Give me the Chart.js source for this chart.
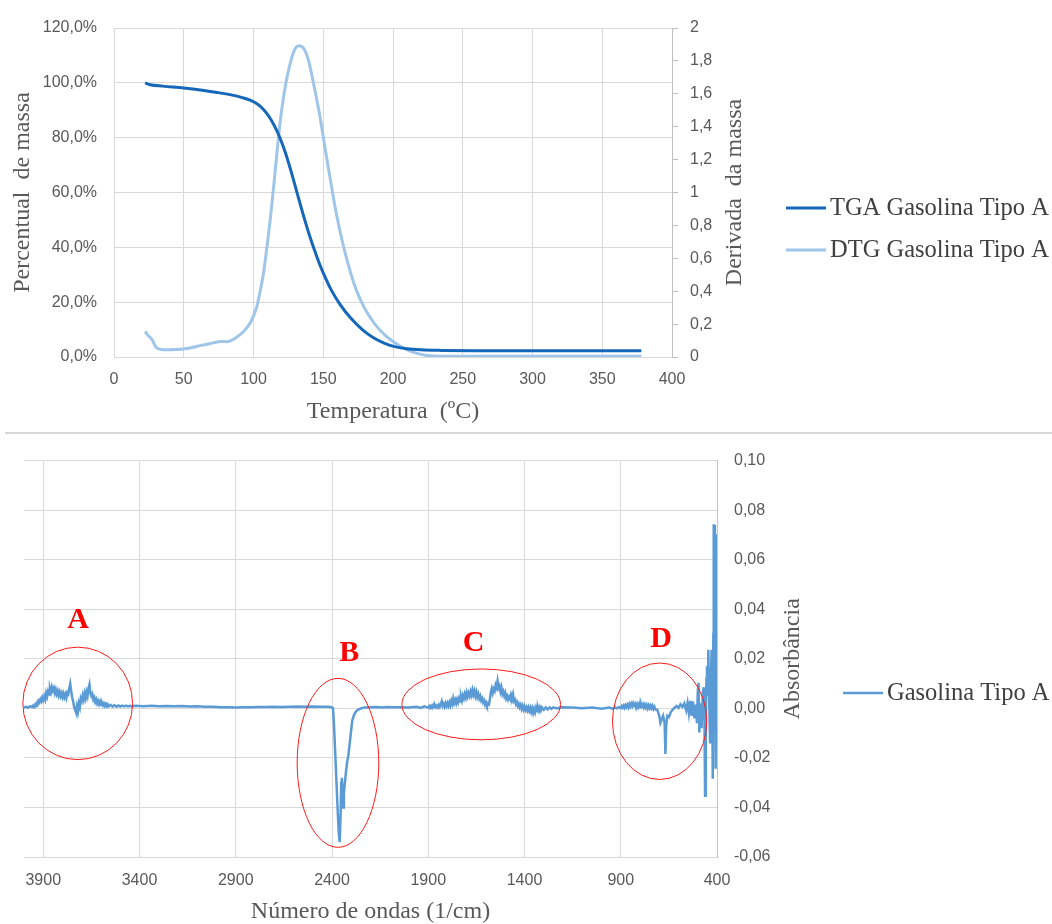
<!DOCTYPE html>
<html>
<head>
<meta charset="utf-8">
<script src="https://cdn.jsdelivr.net/npm/chart.js@4.4.1/dist/chart.umd.min.js"></script>
<style>
html,body{margin:0;padding:0;background:#fff;}
#wrap{position:relative;width:1052px;height:924px;overflow:hidden;background:#fff;}
#c1{position:absolute;left:0;top:0;}
#c2{position:absolute;left:0;top:434px;}
#sep{position:absolute;left:5px;top:432px;width:1047px;height:0;border-top:2px solid #d6d6d6;z-index:2;}
</style>
</head>
<body>
<div id="wrap">
<canvas id="c1" width="1052" height="434"></canvas>
<div id="sep"></div>
<canvas id="c2" width="1052" height="490"></canvas>
</div>
<script>
// ---------------- TOP CHART DATA (TGA / DTG) ----------------
const tgaLabel = 'TGA Gasolina Tipo A';
const dtgLabel = 'DTG Gasolina Tipo A';
const tgaTemp = [22.3, 26, 35, 50, 62, 74, 84, 92, 98, 103, 107, 111, 115, 119, 123, 127, 131, 135, 139, 143, 147, 151, 156, 162, 170, 178, 186, 194, 202, 210, 220, 235, 260, 378];
const tgaMass = [100, 99.3, 98.8, 98.1, 97.4, 96.5, 95.6, 94.6, 93.6, 92.2, 90.4, 87.8, 84.3, 79.9, 74.3, 67.6, 60.3, 53.0, 46.2, 40.0, 34.4, 29.5, 24.2, 19.2, 14.0, 10.0, 7.0, 5.0, 3.7, 3.0, 2.6, 2.4, 2.3, 2.3];
const dtgTemp = [22.3, 24.5, 26, 27.7, 29, 30.6, 34, 37.7, 44, 49.7, 56, 61.7, 68, 73.7, 77, 80.9, 85, 90.4, 94, 97.6, 100, 102.4, 105, 107.2, 109.5, 112, 114.5, 116.8, 119, 121.6, 124, 126.4, 129, 132.4, 135, 137.2, 139.5, 142, 145, 148, 151.5, 155.1, 158.5, 162.3, 167, 171.9, 176.5, 181.4, 187, 193.4, 199, 205.4, 211, 217.3, 223, 230, 250, 300, 378];
const dtgDeriv = [0.156, 0.13, 0.118, 0.10, 0.075, 0.055, 0.046, 0.044, 0.045, 0.049, 0.058, 0.069, 0.080, 0.091, 0.094, 0.093, 0.105, 0.136, 0.165, 0.207, 0.25, 0.308, 0.41, 0.511, 0.66, 0.835, 1.04, 1.24, 1.42, 1.584, 1.70, 1.787, 1.86, 1.892, 1.885, 1.858, 1.80, 1.706, 1.58, 1.443, 1.26, 1.078, 0.91, 0.754, 0.59, 0.45, 0.35, 0.27, 0.20, 0.14, 0.10, 0.065, 0.040, 0.022, 0.011, 0.006, 0.004, 0.004, 0.004];

// ---------------- BOTTOM CHART DATA (FTIR) : [wavenumber, absorbance] ----------------
const ftirLabel = 'Gasolina Tipo A';
const ftirTicks = [400, 900, 1400, 1900, 2400, 2900, 3400, 3900];
const ftirRegionA = [
  [4000,0.0003],[3990,0.0006],[3980,0.0003],[3970,0.0008],[3960,0.0006],[3955,0.0010],[3950,0.0005],[3945,0.0014],
  [3940,0.0009],[3935,0.0020],[3930,0.0014],[3925,0.0030],[3920,0.0024],[3915,0.0036],[3910,0.0028],[3905,0.0044],
  [3900,0.0034],[3895,0.0048],[3890,0.0036],[3885,0.0062],[3880,0.0048],[3875,0.0068],[3870,0.0056],[3865,0.0080],
  [3860,0.0066],[3855,0.0086],[3850,0.0072],[3845,0.0082],[3840,0.0062],[3835,0.0076],[3830,0.0058],[3825,0.0070],
  [3820,0.0052],[3815,0.0066],[3810,0.0050],[3805,0.0062],[3800,0.0046],[3795,0.0060],[3790,0.0044],[3785,0.0056],
  [3780,0.0042],[3775,0.0064],[3770,0.0058],[3765,0.0080],[3760,0.0099],[3755,0.0070],[3750,0.0045],[3745,0.0030],
  [3740,0.0008],[3735,-0.0005],[3730,-0.0016],[3725,0.0008],[3720,-0.0012],[3715,0.0020],[3710,0.0005],[3705,0.0040],
  [3700,0.0030],[3695,0.0052],[3690,0.0036],[3685,0.0060],[3680,0.0042],[3675,0.0066],[3670,0.0050],[3665,0.0080],
  [3660,0.0096],[3655,0.0062],[3650,0.0050],[3645,0.0058],[3640,0.0036],[3635,0.0044],[3630,0.0026],[3625,0.0036],
  [3620,0.0020],[3615,0.0030],[3610,0.0016],[3605,0.0026],[3600,0.0014],[3595,0.0022],[3590,0.0012],[3585,0.0020],
  [3580,0.0010],[3575,0.0018],[3570,0.0009],[3565,0.0016],[3560,0.0008],[3550,0.0014],[3540,0.0007],[3530,0.0013],
  [3520,0.0007],[3510,0.0012],[3500,0.0007],[3490,0.0011],[3480,0.0008],[3470,0.0011],[3460,0.0008],[3450,0.0010],[3440,0.0008]
];
const ftirFlat1 = [
  [3420,0.0010],[3380,0.0008],[3340,0.0010],[3300,0.0008],[3260,0.0009],[3220,0.0008],[3180,0.0009],[3140,0.0007],
  [3100,0.0008],[3060,0.0006],[3020,0.0006],[2980,0.0004],[2940,0.0004],[2900,0.0003],[2860,0.0004],[2820,0.0004],
  [2780,0.0005],[2740,0.0005],[2700,0.0006],[2660,0.0005],[2620,0.0006],[2580,0.0007],[2540,0.0006],[2500,0.0007],
  [2460,0.0006],[2420,0.0006]
];
const ftirRegionB = [
  [2410,0.0005],[2400,0.0004],[2395,0.0000],[2390,-0.0060],[2385,-0.0150],[2380,-0.0240],[2375,-0.0330],[2370,-0.0420],
  [2365,-0.0500],[2360,-0.0540],[2355,-0.0420],[2352,-0.0300],[2349,-0.0280],[2346,-0.0330],[2342,-0.0400],[2338,-0.0340],
  [2333,-0.0300],[2328,-0.0260],[2322,-0.0220],[2315,-0.0190],[2305,-0.0120],[2295,-0.0050],[2285,-0.0025],[2275,-0.0012],
  [2265,-0.0006],[2250,0.0000],[2230,0.0003],[2200,0.0004]
];
const ftirFlat2 = [[2170,0.0005],[2140,0.0003],[2110,0.0005],[2080,0.0004],[2050,0.0004],[2000,0.0003],[1960,0.0006],[1940,0.0002],[1920,0.0008]];
const ftirRegionC = [
  [1900,0.0003],[1895,0.0009],[1890,0.0002],[1885,0.0010],[1880,0.0003],[1875,0.0012],[1870,0.0004],[1865,0.0013],
  [1860,0.0005],[1855,0.0011],[1850,0.0004],[1845,0.0014],[1840,0.0006],[1835,0.0016],[1830,0.0028],[1825,0.0010],
  [1820,0.0018],[1815,0.0007],[1810,0.0020],[1805,0.0009],[1800,0.0021],[1795,0.0010],[1790,0.0024],[1785,0.0012],
  [1780,0.0030],[1775,0.0018],[1770,0.0040],[1765,0.0022],[1760,0.0034],[1755,0.0020],[1750,0.0036],[1745,0.0024],
  [1740,0.0040],[1735,0.0028],[1730,0.0048],[1725,0.0032],[1720,0.0052],[1715,0.0040],[1710,0.0058],[1705,0.0044],
  [1700,0.0064],[1695,0.0048],[1690,0.0062],[1685,0.0050],[1680,0.0068],[1675,0.0054],[1670,0.0074],[1665,0.0056],
  [1660,0.0070],[1655,0.0050],[1650,0.0066],[1645,0.0046],[1640,0.0058],[1635,0.0040],[1630,0.0050],[1625,0.0032],
  [1620,0.0040],[1615,0.0024],[1610,0.0032],[1605,0.0016],[1600,0.0024],[1595,0.0012],[1590,0.0020],[1585,0.0016],
  [1580,0.0036],[1575,0.0064],[1570,0.0080],[1565,0.0062],[1560,0.0078],[1555,0.0070],[1550,0.0094],[1545,0.0084],
  [1540,0.0110],[1535,0.0082],[1530,0.0090],[1525,0.0068],[1520,0.0084],[1515,0.0058],[1510,0.0068],[1505,0.0050],
  [1500,0.0062],[1495,0.0040],[1490,0.0050],[1485,0.0036],[1480,0.0046],[1475,0.0038],[1470,0.0056],[1465,0.0044],
  [1460,0.0058],[1455,0.0030],[1450,0.0036],[1445,0.0018],[1440,0.0026],[1435,0.0010],[1430,0.0018],[1425,0.0004],
  [1420,0.0014],[1415,-0.0002],[1410,0.0010],[1405,-0.0004],[1400,0.0008],[1395,-0.0006],[1390,0.0004],[1385,-0.0008],
  [1380,0.0004],[1375,-0.0010],[1370,0.0002],[1365,-0.0014],[1360,0.0000],[1355,-0.0018],[1350,-0.0002],[1345,-0.0016],
  [1340,0.0002],[1335,-0.0012],[1330,0.0003],[1325,-0.0010],[1320,0.0004],[1315,-0.0008],[1310,0.0004],[1300,-0.0006],
  [1290,0.0004],[1280,-0.0004],[1270,0.0004],[1260,-0.0002],[1250,0.0004],[1230,0.0000],[1210,0.0004]
];
const ftirFlat3 = [[1150,0.0003],[1100,0.0000],[1050,0.0003],[1000,-0.0002],[960,0.0003]];
const ftirRegionD = [
  [940,-0.0002],[930,0.0004],[920,0.0000],[910,0.0005],[900,0.0001],[895,0.0009],[890,0.0003],[885,0.0011],[880,0.0002],
  [875,0.0013],[870,0.0005],[865,0.0014],[860,0.0004],[855,0.0017],[850,0.0008],[845,0.0019],[840,0.0009],[835,0.0021],
  [830,0.0012],[825,0.0018],[820,0.0003],[815,0.0016],[810,0.0005],[805,0.0017],[800,0.0004],[795,0.0019],[790,0.0008],
  [785,0.0016],[780,0.0004],[775,0.0015],[770,0.0003],[765,0.0013],[760,0.0000],[755,0.0012],[750,0.0002],[745,0.0011],
  [740,0.0001],[735,0.0010],[730,-0.0002],[725,0.0006],[720,-0.0004],[710,-0.0006],[700,-0.0030],[694,-0.0058],[688,-0.0045],
  [680,-0.0030],[672,-0.0060],[668,-0.0184],[664,-0.0070],[658,-0.0030],[650,-0.0035],[640,-0.0015],[630,-0.0005],
  [620,0.0003],[610,0.0010],[600,0.0002],[590,0.0016],[580,0.0006],[570,0.0020],[560,-0.0008],[553,0.0022],[546,-0.0020],
  [539,0.0030],[532,-0.0030],[525,0.0028],[518,-0.0040],[511,0.0015],[504,-0.0060],[500,0.0065],[496,0.0103],[492,-0.0097],
  [486,0.0020],[480,-0.0080],[474,0.0060],[469,0.0085],[465,-0.0050],[462,-0.0353],[458,-0.0040],[455,0.0120],[452,0.0170],
  [448,0.0050],[445,0.0236],[440,0.0010],[436,-0.0137],[432,0.0100],[428,0.0236],[425,0.0050],[422,-0.0284],[419,0.0300],
  [417,0.0743],[414,0.0700],[411,0.0740],[409,0.0100],[407,-0.0244],[405,0.0300],[403,0.0703],[401,0.0650],[400,0.0600]
];

// annotations (data units: wavenumber, absorbance)
const annotLetters   = ['A', 'B', 'C', 'D'];
const annotLetterWn  = [3719, 2310, 1664, 690];
const annotLetterAbs = [0.0356, 0.0223, 0.0262, 0.0280];
const annotCenterWn  = [3721, 2369, 1625, 698];
const annotCenterAbs = [0.0020, -0.0220, 0.0016, -0.0052];
const annotRadiusWn  = [285, 212, 412, 245];
const annotRadiusAbs = [0.0227, 0.0341, 0.0143, 0.0235];

// ---------------- helpers ----------------
function toXY(xs, ys) { return xs.map((x, i) => ({x: x, y: ys[i]})); }
const ftirPairs = [].concat(ftirRegionA, ftirFlat1, ftirRegionB, ftirFlat2, ftirRegionC, ftirFlat3, ftirRegionD);
const ftirData = ftirPairs.map(p => ({x: p[0], y: p[1]}));

const TICK_FONT = {family: 'Liberation Sans', size: 16};
const TICK_COLOR = '#595959';
const TITLE_FONT = {family: 'Liberation Serif', size: 24, lineHeight: 1};
const GRID = '#d9d9d9';

const sideText = {
  id: 'sideText',
  afterDraw(chart, args, opts) {
    const ctx = chart.ctx;
    const ca = chart.chartArea;
    if (opts.rightTitle) {
      ctx.save();
      ctx.translate(opts.rightTitle.x, (ca.top + ca.bottom) / 2);
      ctx.rotate(-Math.PI / 2);
      ctx.font = '24px "Liberation Serif"';
      ctx.fillStyle = '#595959';
      ctx.textAlign = 'center';
      ctx.textBaseline = 'middle';
      ctx.fillText(opts.rightTitle.text, 0, 0);
      ctx.restore();
    }
    if (opts.legend) {
      const L = opts.legend;
      chart.data.datasets.forEach((ds, i) => {
        const y = L.y[i];
        ctx.save();
        ctx.strokeStyle = ds.borderColor;
        ctx.lineWidth = ds.borderWidth;
        ctx.beginPath();
        ctx.moveTo(L.x, y);
        ctx.lineTo(L.x + L.len, y);
        ctx.stroke();
        ctx.font = '24.5px "Liberation Serif"';
        ctx.fillStyle = '#404040';
        ctx.textAlign = 'left';
        ctx.textBaseline = 'middle';
        ctx.fillText(ds.label, L.x + L.len + L.gap, y + 1);
        ctx.restore();
      });
    }
  }
};

const annotPlugin = {
  id: 'annotPlugin',
  afterDatasetsDraw(chart) {
    const ctx = chart.ctx;
    const xs = chart.scales.x, ys = chart.scales.y;
    ctx.save();
    ctx.strokeStyle = '#ff1a1a';
    ctx.lineWidth = 1;
    annotLetters.forEach((t, i) => {
      const cx = xs.getPixelForValue(annotCenterWn[i]);
      const cy = ys.getPixelForValue(annotCenterAbs[i]);
      const rx = Math.abs(xs.getPixelForValue(annotCenterWn[i] + annotRadiusWn[i]) - cx);
      const ry = Math.abs(ys.getPixelForValue(annotCenterAbs[i] + annotRadiusAbs[i]) - cy);
      ctx.beginPath();
      ctx.ellipse(cx, cy, rx, ry, 0, 0, Math.PI * 2);
      ctx.stroke();
      ctx.font = 'bold 30px "Liberation Serif"';
      ctx.fillStyle = '#ff0000';
      ctx.textAlign = 'center';
      ctx.textBaseline = 'middle';
      ctx.fillText(t, xs.getPixelForValue(annotLetterWn[i]), ys.getPixelForValue(annotLetterAbs[i]));
    });
    ctx.restore();
  }
};

// ---------------- TOP CHART ----------------
new Chart(document.getElementById('c1'), {
  type: 'line',
  data: {
    datasets: [
      {label: tgaLabel, data: toXY(tgaTemp, tgaMass), yAxisID: 'y', borderColor: '#1567b9', borderWidth: 3, pointRadius: 0, cubicInterpolationMode: 'monotone', fill: false},
      {label: dtgLabel, data: toXY(dtgTemp, dtgDeriv), yAxisID: 'y2', borderColor: '#9fc5e8', borderWidth: 3, pointRadius: 0, cubicInterpolationMode: 'monotone', fill: false}
    ]
  },
  options: {
    responsive: false,
    animation: false,
    devicePixelRatio: 1,
    layout: {padding: {left: 0, right: 0, top: 28, bottom: 0}},
    plugins: {
      legend: {display: false},
      tooltip: {enabled: false},
      sideText: {
        rightTitle: {text: 'Derivada  da massa', x: 735},
        legend: {x: 786, len: 40, gap: 4, y: [208, 250]}
      }
    },
    scales: {
      x: {
        type: 'linear', min: 0, max: 400,
        ticks: {stepSize: 50, font: TICK_FONT, color: TICK_COLOR, padding: 13, maxRotation: 0},
        grid: {color: GRID, drawTicks: false},
        border: {color: GRID},
        title: {display: true, text: 'Temperatura  (ºC)', font: TITLE_FONT, color: '#595959', padding: {top: 0, bottom: 10}},
        afterFit(s) { s.height = 77; }
      },
      y: {
        position: 'left', min: 0, max: 120,
        ticks: {stepSize: 20, font: TICK_FONT, color: TICK_COLOR, padding: 17,
          callback: v => (Math.round(v * 10) / 10).toFixed(1).replace('.', ',') + '%'},
        grid: {color: GRID, drawTicks: false},
        border: {display: false},
        title: {display: true, text: 'Percentual  de massa', font: TITLE_FONT, color: '#595959', padding: {top: 11, bottom: 0}},
        afterFit(s) { s.width = 114; }
      },
      y2: {
        position: 'right', min: 0, max: 2,
        ticks: {stepSize: 0.2, font: TICK_FONT, color: TICK_COLOR, padding: 12,
          callback: v => String(Math.round(v * 10) / 10).replace('.', ',')},
        grid: {drawOnChartArea: false, color: '#bfbfbf', drawTicks: true, tickLength: 6},
        border: {display: true, color: '#bfbfbf'},
        afterFit(s) { s.width = 380; }
      }
    }
  },
  plugins: [sideText]
});

// ---------------- BOTTOM CHART ----------------
new Chart(document.getElementById('c2'), {
  type: 'line',
  data: {
    datasets: [
      {label: ftirLabel, data: ftirData, borderColor: '#5b9bd5', borderWidth: 2.5, pointRadius: 0, tension: 0, fill: false}
    ]
  },
  options: {
    responsive: false,
    animation: false,
    devicePixelRatio: 1,
    layout: {padding: {left: 24, right: 0, top: 23, bottom: 0}},
    plugins: {
      legend: {display: false},
      tooltip: {enabled: false},
      sideText: {
        rightTitle: {text: 'Absorbância', x: 793},
        legend: {x: 843, len: 40, gap: 4, y: [259]}
      }
    },
    scales: {
      x: {
        type: 'linear', min: 400, max: 4000, reverse: true,
        afterBuildTicks(s) { s.ticks = ftirTicks.map(v => ({value: v})); },
        ticks: {font: TICK_FONT, color: TICK_COLOR, padding: 14, autoSkip: false, maxRotation: 0, callback: v => String(v)},
        grid: {color: GRID, drawTicks: false},
        border: {color: GRID},
        title: {display: true, text: 'Número de ondas (1/cm)', font: TITLE_FONT, color: '#595959', padding: {top: 0, bottom: 0}},
        afterFit(s) { s.height = 67; }
      },
      y: {
        position: 'right', min: -0.06, max: 0.10,
        ticks: {stepSize: 0.02, font: TICK_FONT, color: TICK_COLOR, padding: 17,
          callback: v => (Math.round(v * 100) / 100).toFixed(2).replace('.', ',')},
        grid: {color: GRID, drawTicks: false},
        border: {display: true, color: '#c4c4c4'},
        afterFit(s) { s.width = 335; }
      }
    }
  },
  plugins: [sideText, annotPlugin]
});
</script>
</body>
</html>
